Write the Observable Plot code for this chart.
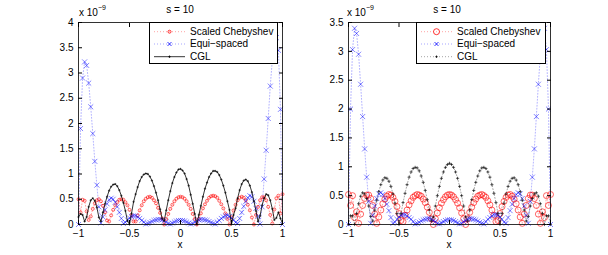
<!DOCTYPE html>
<html><head><meta charset="utf-8">
<script src="https://cdn.jsdelivr.net/npm/d3@7"></script>
<script src="https://cdn.jsdelivr.net/npm/@observablehq/plot@0.6"></script>
<style>
html,body{margin:0;padding:0;background:#fff;}
#root{position:relative;width:608px;height:255px;overflow:hidden;font-family:"Liberation Sans",Arial,sans-serif;font-size:10px;color:#000;}
#root svg{position:absolute;top:0;}
.abs{position:absolute;white-space:nowrap;line-height:10px;}
.legend{position:absolute;background:#fff;border:1px solid #000;box-sizing:border-box;}
.legend span{position:absolute;white-space:nowrap;line-height:10px;font-size:10px;}
</style></head><body><div id="root"></div>
<script>
const xs = [-1.00,-0.98,-0.96,-0.94,-0.92,-0.90,-0.88,-0.86,-0.84,-0.82,
-0.80,-0.78,-0.76,-0.74,-0.72,-0.70,-0.68,-0.66,-0.64,-0.62,
-0.60,-0.58,-0.56,-0.54,-0.52,-0.50,-0.48,-0.46,-0.44,-0.42,
-0.40,-0.38,-0.36,-0.34,-0.32,-0.30,-0.28,-0.26,-0.24,-0.22,
-0.20,-0.18,-0.16,-0.14,-0.12,-0.10,-0.08,-0.06,-0.04,-0.02,
0.00,0.02,0.04,0.06,0.08,0.10,0.12,0.14,0.16,0.18,
0.20,0.22,0.24,0.26,0.28,0.30,0.32,0.34,0.36,0.38,
0.40,0.42,0.44,0.46,0.48,0.50,0.52,0.54,0.56,0.58,
0.60,0.62,0.64,0.66,0.68,0.70,0.72,0.74,0.76,0.78,
0.80,0.82,0.84,0.86,0.88,0.90,0.92,0.94,0.96,0.98,
1.00];

// Left panel (units of 1e-9)
const chebLeft = [0.50,0.24,0.49,0.47,0.26,0.09,0.16,0.31,0.42,0.48,
0.50,0.46,0.37,0.24,0.08,0.06,0.18,0.29,0.38,0.44,
0.49,0.50,0.49,0.44,0.38,0.29,0.18,0.06,0.06,0.18,
0.28,0.38,0.46,0.51,0.54,0.55,0.53,0.48,0.42,0.33,
0.23,0.12,0.00,0.11,0.21,0.31,0.39,0.46,0.51,0.54,
0.55,0.54,0.51,0.46,0.39,0.31,0.21,0.11,0.00,0.11,
0.22,0.32,0.40,0.47,0.53,0.56,0.57,0.56,0.53,0.47,
0.40,0.32,0.22,0.11,0.00,0.14,0.28,0.39,0.48,0.53,
0.55,0.53,0.48,0.39,0.28,0.14,0.00,0.19,0.35,0.48,
0.54,0.54,0.48,0.35,0.19,0.02,0.30,0.52,0.57,0.22,
0.60];
const equiLeft = [0.00,1.90,2.90,3.22,3.15,2.80,2.33,1.80,1.25,0.78,
0.35,0.03,0.15,0.29,0.41,0.49,0.52,0.50,0.44,0.35,
0.24,0.12,0.02,0.04,0.09,0.13,0.16,0.17,0.17,0.15,
0.12,0.08,0.05,0.01,0.02,0.04,0.06,0.08,0.09,0.10,
0.10,0.09,0.07,0.05,0.02,0.01,0.03,0.05,0.07,0.08,
0.08,0.08,0.07,0.05,0.03,0.01,0.02,0.05,0.07,0.09,
0.10,0.10,0.09,0.08,0.06,0.04,0.02,0.01,0.05,0.08,
0.12,0.15,0.17,0.18,0.16,0.13,0.09,0.04,0.02,0.12,
0.24,0.36,0.46,0.53,0.57,0.55,0.46,0.32,0.16,0.01,
0.35,0.90,1.47,2.10,2.74,3.25,3.60,3.70,3.45,2.28,
0.00];
const cglLeft = [0.15,0.21,0.19,0.06,0.15,0.35,0.48,0.52,0.47,0.34,
0.14,0.06,0.24,0.41,0.55,0.67,0.75,0.79,0.80,0.76,
0.68,0.57,0.43,0.27,0.07,0.00,0.22,0.45,0.60,0.74,
0.86,0.94,0.99,1.01,1.00,0.95,0.87,0.76,0.63,0.48,
0.30,0.12,0.07,0.28,0.48,0.66,0.82,0.94,1.03,1.09,
1.10,1.07,1.01,0.90,0.77,0.59,0.41,0.21,0.00,0.19,
0.37,0.55,0.71,0.83,0.94,1.01,1.06,1.06,1.04,0.98,
0.89,0.77,0.63,0.46,0.29,0.00,0.19,0.32,0.52,0.68,
0.80,0.87,0.89,0.86,0.77,0.64,0.46,0.27,0.06,0.17,
0.38,0.52,0.60,0.58,0.48,0.31,0.09,0.13,0.24,0.12,
0.02];

// Right panel (units of 1e-9)
const chebRight = [0.52,0.33,0.50,0.12,0.22,0.02,0.18,0.33,0.45,0.51,
0.51,0.45,0.33,0.18,0.02,0.13,0.25,0.36,0.44,0.49,
0.52,0.51,0.47,0.40,0.31,0.19,0.07,0.05,0.16,0.25,
0.34,0.41,0.47,0.50,0.52,0.51,0.49,0.44,0.38,0.30,
0.21,0.10,0.00,0.10,0.20,0.29,0.37,0.43,0.48,0.51,
0.52,0.51,0.48,0.43,0.37,0.29,0.20,0.10,0.00,0.10,
0.21,0.30,0.38,0.44,0.49,0.51,0.52,0.50,0.47,0.41,
0.34,0.25,0.16,0.05,0.07,0.19,0.31,0.40,0.47,0.51,
0.52,0.49,0.44,0.36,0.25,0.13,0.02,0.18,0.33,0.45,
0.51,0.51,0.45,0.33,0.18,0.02,0.22,0.12,0.50,0.33,
0.52];
const equiRight = [0.00,2.00,3.03,3.40,3.31,2.95,2.43,1.87,1.31,0.82,
0.40,0.02,0.16,0.32,0.45,0.53,0.55,0.52,0.45,0.35,
0.24,0.12,0.02,0.04,0.09,0.13,0.16,0.17,0.17,0.15,
0.12,0.09,0.05,0.01,0.02,0.04,0.06,0.08,0.09,0.10,
0.10,0.09,0.07,0.05,0.02,0.01,0.03,0.05,0.07,0.08,
0.08,0.08,0.07,0.05,0.03,0.01,0.02,0.05,0.07,0.09,
0.10,0.10,0.09,0.08,0.06,0.04,0.02,0.01,0.05,0.09,
0.12,0.15,0.17,0.17,0.16,0.13,0.09,0.04,0.02,0.12,
0.24,0.35,0.45,0.52,0.55,0.53,0.45,0.32,0.16,0.02,
0.40,0.82,1.31,1.87,2.43,2.95,3.31,3.40,3.03,2.00,
0.00];
const cglRight = [0.00,0.15,0.15,0.00,0.19,0.36,0.49,0.55,0.53,0.45,
0.32,0.14,0.06,0.25,0.42,0.57,0.69,0.77,0.81,0.80,
0.75,0.66,0.53,0.37,0.19,0.00,0.19,0.38,0.54,0.69,
0.82,0.91,0.97,0.99,0.98,0.93,0.84,0.73,0.59,0.43,
0.25,0.06,0.13,0.32,0.50,0.66,0.80,0.91,0.99,1.04,
1.06,1.04,0.99,0.91,0.80,0.66,0.50,0.32,0.13,0.06,
0.25,0.43,0.59,0.73,0.84,0.93,0.98,0.99,0.97,0.91,
0.82,0.69,0.54,0.38,0.19,0.00,0.19,0.37,0.53,0.66,
0.75,0.80,0.81,0.77,0.69,0.57,0.42,0.25,0.06,0.14,
0.32,0.45,0.53,0.55,0.49,0.36,0.19,0.00,0.15,0.15,
0.00];

const xTicks = [-1, -0.5, 0, 0.5, 1];
const yTicksLeft = [0, 0.5, 1, 1.5, 2, 2.5, 3, 3.5, 4];
const yTicksRight = [0, 0.5, 1, 1.5, 2, 2.5, 3, 3.5];
const seriesNames = ["Scaled Chebyshev", "Equi\u2212spaced", "CGL"];
const titleText = "s = 10";
const xLabel = "x";

const RED = "#ff0000", BLUE = "#0000ff";
const fmt = d => d < 0 ? "\u2212" + String(-d) : String(d);
const table = arr => xs.map((x, i) => ({x, y: arr[i]}));
const root = document.getElementById("root");

function panel({cheb, equi, cgl, yMax, yTicks, left, ml, mr, chebR, cglSolid}) {
  const c = table(cheb), e = table(equi), g = table(cgl);
  const dash = "1,2";
  const svg = Plot.plot({
    width: 304, height: 255,
    marginLeft: ml, marginRight: mr, marginTop: 22, marginBottom: 31,
    x: {domain: [-1, 1]},
    y: {domain: [0, yMax]},
    style: {fontFamily: "Liberation Sans, Arial, sans-serif", fontSize: "10px", background: "transparent", overflow: "visible", color: "black"},
    marks: [
      Plot.line(c, {x: "x", y: "y", stroke: RED, strokeWidth: 0.6, strokeDasharray: dash, strokeOpacity: 0.6}),
      Plot.dot(c, {x: "x", y: "y", r: chebR, stroke: RED, strokeWidth: 0.7, fill: "none", strokeOpacity: 0.85}),
      Plot.line(e, {x: "x", y: "y", stroke: BLUE, strokeWidth: 0.6, strokeDasharray: dash, strokeOpacity: 0.5}),
      Plot.dot(e, {x: "x", y: "y", symbol: "times", r: 2.4, stroke: BLUE, strokeWidth: 0.7, strokeOpacity: 0.7}),
      Plot.line(g, {x: "x", y: "y", stroke: "black", strokeWidth: cglSolid ? 0.8 : 0.6, strokeDasharray: cglSolid ? null : dash, strokeOpacity: cglSolid ? 1 : 0.6}),
      Plot.dot(g, {x: "x", y: "y", symbol: "plus", r: cglSolid ? 0.8 : 1.1, stroke: "black", strokeWidth: 0.6}),
      Plot.frame({stroke: "black", strokeWidth: 0.8}),
      Plot.axisX({ticks: xTicks, anchor: "bottom", tickSize: -4, tickPadding: 9, tickFormat: fmt, label: null}),
      Plot.axisX({ticks: xTicks, anchor: "top", tickSize: -4, tickFormat: () => "", label: null}),
      Plot.axisY({ticks: yTicks, anchor: "left", tickSize: -4, tickPadding: 9, tickFormat: fmt, label: null}),
      Plot.axisY({ticks: yTicks, anchor: "right", tickSize: -4, tickFormat: () => "", label: null})
    ]
  });
  svg.style.left = left + "px";
  root.appendChild(svg);
}

panel({cheb: chebLeft, equi: equiLeft, cgl: cglLeft, yMax: 4, yTicks: yTicksLeft, left: 0, ml: 78, mr: 22, chebR: 1.5, cglSolid: true});
panel({cheb: chebRight, equi: equiRight, cgl: cglRight, yMax: 3.5, yTicks: yTicksRight, left: 304, ml: 44, mr: 58, chebR: 3, cglSolid: false});

function addText(txt, x, y, center) {
  const d = document.createElement("div");
  d.className = "abs";
  d.textContent = txt;
  d.style.left = x + "px"; d.style.top = y + "px";
  if (center) d.style.transform = "translateX(-50%)";
  root.appendChild(d);
  return d;
}
function addExp(x) {
  const d = document.createElement("div");
  d.className = "abs";
  d.style.left = x + "px"; d.style.top = "8px";
  d.innerHTML = "x 10<span style=\"position:relative;top:-6px;font-size:7px;\">\u22129</span>";
  root.appendChild(d);
}
addText(titleText, 180, 5, true);
addText(titleText, 447, 5, true);
addText(xLabel, 180, 240, true);
addText(xLabel, 449, 240, true);
addExp(79); addExp(347);

function legend(x, w, chebR, cglSolid) {
  const box = document.createElement("div");
  box.className = "legend";
  box.style.left = x + "px"; box.style.top = "22px";
  box.style.width = w + "px"; box.style.height = "42px";
  const ns = "http://www.w3.org/2000/svg";
  const s = document.createElementNS(ns, "svg");
  s.setAttribute("width", w); s.setAttribute("height", 42);
  s.style.position = "absolute"; s.style.left = "-1px"; s.style.top = "-1px";
  const rows = [9.7, 22, 34.7];
  const cols = [RED, BLUE, "black"];
  rows.forEach((ry, i) => {
    const ln = document.createElementNS(ns, "line");
    ln.setAttribute("x1", 5); ln.setAttribute("x2", 36);
    ln.setAttribute("y1", ry); ln.setAttribute("y2", ry);
    ln.setAttribute("stroke", cols[i]);
    ln.setAttribute("stroke-width", i === 2 && cglSolid ? 0.8 : 0.6);
    if (!(i === 2 && cglSolid)) { ln.setAttribute("stroke-dasharray", "1,2"); ln.setAttribute("stroke-opacity", 0.6); }
    s.appendChild(ln);
    const m = document.createElementNS(ns, "path");
    const cx = 20.5;
    let dpath;
    if (i === 0) dpath = `M${cx - chebR},${ry}a${chebR},${chebR} 0 1,0 ${2*chebR},0a${chebR},${chebR} 0 1,0 ${-2*chebR},0`;
    else if (i === 1) dpath = `M${cx-2},${ry-2}L${cx+2},${ry+2}M${cx-2},${ry+2}L${cx+2},${ry-2}`;
    else dpath = `M${cx-1.2},${ry}L${cx+1.2},${ry}M${cx},${ry-1.2}L${cx},${ry+1.2}`;
    m.setAttribute("d", dpath);
    m.setAttribute("stroke", cols[i]); m.setAttribute("fill", "none"); m.setAttribute("stroke-width", 0.8);
    s.appendChild(m);
    const t = document.createElement("span");
    t.textContent = seriesNames[i];
    t.style.left = "40px"; t.style.top = (ry - 6) + "px";
    box.appendChild(t);
  });
  box.insertBefore(s, box.firstChild);
  root.appendChild(box);
}
legend(149, 129, 1.5, true);
legend(416, 130, 3, false);
</script></body></html>
